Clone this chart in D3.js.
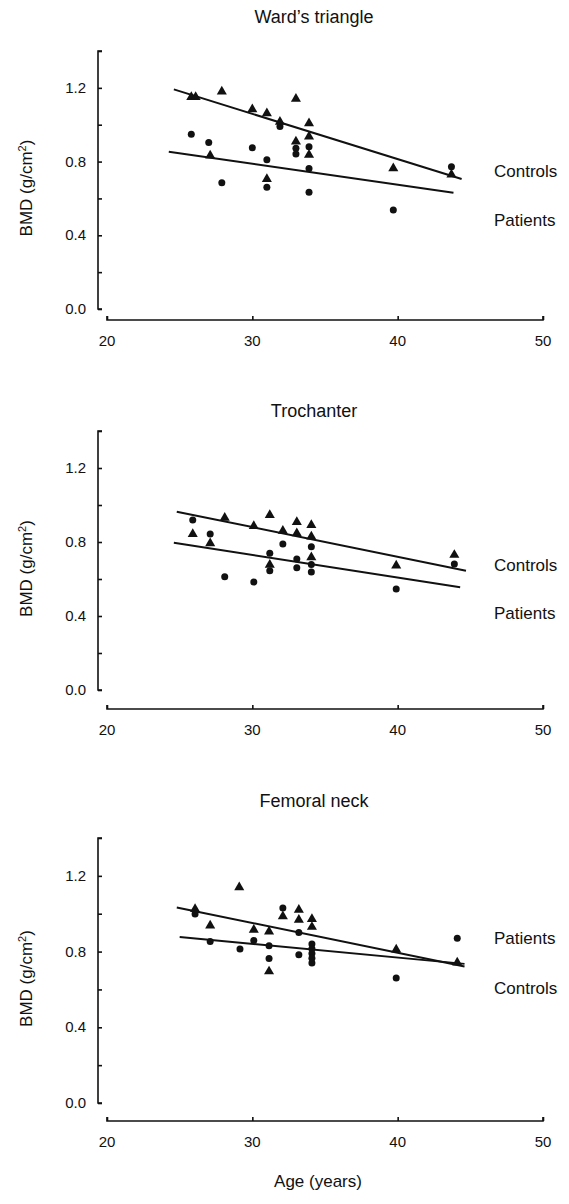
<!DOCTYPE html>
<html>
<head>
<meta charset="utf-8">
<script src="https://cdn.jsdelivr.net/npm/d3@7"></script>
<style>
  body { margin: 0; background: #fff; }
  text { font-family: "Liberation Sans", Arial, sans-serif; fill: #111; }
</style>
</head>
<body>
<svg id="chart"></svg>
<script>
// ---- data ----
const panelTitles = ["Ward\u2019s triangle", "Trochanter", "Femoral neck"];
const xTicks = [20, 30, 40, 50];
const yTicks = [0, 0.2, 0.4, 0.6, 0.8, 1.0, 1.2, 1.4];
const yTickLabels = ["0.0", "", "0.4", "", "0.8", "", "1.2", ""];

// [age, BMD]; triangles = controls, dots = patients
const wardControls = [[25.8,1.15],[26.1,1.15],[27.1,0.832],[27.9,1.18],[30,1.083],[31,1.062],[31,0.705],[31.9,1.016],[33,1.14],[33,0.908],[33.9,1.007],[33.9,0.935],[33.9,0.836],[39.7,0.763],[43.7,0.73]];
const wardPatients = [[25.8,0.948],[27,0.904],[27.9,0.685],[30,0.875],[31,0.81],[31,0.66],[31.9,0.99],[33,0.872],[33,0.841],[33.9,0.88],[33.9,0.763],[33.9,0.633],[39.7,0.537],[43.7,0.772]];
const wardLines = [[[24.6,1.192],[44.4,0.705]], [[24.25,0.853],[43.84,0.631]]];
const wardLabels = ["Controls", "Patients"];

const trochControls = [[25.9,0.843],[27.1,0.793],[28.1,0.931],[30.1,0.886],[31.2,0.946],[31.2,0.676],[32.1,0.861],[33.06,0.908],[33.06,0.847],[34.06,0.892],[34.06,0.829],[34.06,0.717],[39.9,0.672],[43.9,0.73]];
const trochPatients = [[25.9,0.919],[27.1,0.843],[28.1,0.612],[30.1,0.584],[31.2,0.739],[31.2,0.645],[32.1,0.789],[33.06,0.708],[33.06,0.661],[34.06,0.775],[34.06,0.679],[34.06,0.638],[39.9,0.546],[43.9,0.681]];
const trochLines = [[[24.8,0.964],[44.7,0.645]], [[24.6,0.796],[44.3,0.555]]];
const trochLabels = ["Controls", "Patients"];

const neckControls = [[26.06,1.025],[27.1,0.937],[29.1,1.139],[30.1,0.915],[31.15,0.906],[31.15,0.695],[32.1,0.986],[33.2,1.021],[33.2,0.968],[34.1,0.972],[34.1,0.93],[39.9,0.81],[44.1,0.742]];
const neckPatients = [[26.06,0.998],[27.1,0.853],[29.15,0.813],[30.1,0.859],[31.15,0.831],[31.15,0.764],[32.1,1.03],[33.2,0.901],[33.2,0.783],[34.1,0.84],[34.1,0.815],[34.1,0.79],[34.1,0.765],[34.1,0.74],[39.9,0.66],[44.1,0.871]];
const neckLines = [[[24.8,1.033],[44.6,0.721]], [[25,0.877],[44.6,0.735]]];
const neckLabels = ["Patients", "Controls"];

const W = 569, H = 1204;
const svg = d3.select("#chart").attr("width", W).attr("height", H);

const x = d3.scaleLinear().domain([20, 50]).range([107, 543]);

// layout of each panel: pixel of y=0, pixel of y=1.4, x axis line, label rows
const panels = [
  {title: panelTitles[0], ctrl: wardControls, pat: wardPatients, lines: wardLines, labels: wardLabels,
   y0: 309, y1: 51, xAxisY: 320, titleY: 17, labelY: [171, 220]},
  {title: panelTitles[1], ctrl: trochControls, pat: trochPatients, lines: trochLines, labels: trochLabels,
   y0: 690, y1: 431, xAxisY: 709, titleY: 411, labelY: [565, 613]},
  {title: panelTitles[2], ctrl: neckControls, pat: neckPatients, lines: neckLines, labels: neckLabels,
   y0: 1103, y1: 838, xAxisY: 1121, titleY: 801, labelY: [938, 988]}
];

const tri = d3.symbol().type(d3.symbolTriangle).size(44);

panels.forEach(p => {
  const y = d3.scaleLinear().domain([0, 1.4]).range([p.y0, p.y1]);
  const g = svg.append("g");

  // title
  g.append("text").attr("x", 314).attr("y", p.titleY + 6)
    .attr("text-anchor", "middle").attr("font-size", 18).text(p.title);

  // y axis (ticks point inward)
  const yAxis = d3.axisRight(y).tickValues(yTicks).tickSize(4).tickFormat("");
  const ya = g.append("g").attr("transform", "translate(98,0)").call(yAxis);
  ya.select(".domain").attr("stroke", "#111").attr("stroke-width", 1.6).attr("d", `M4,${p.y1}H0V${p.y0}H4`);
  ya.selectAll(".tick line").attr("stroke", "#111").attr("stroke-width", 1.6);
  g.selectAll(".ylab").data(yTicks.filter((d, i) => yTickLabels[i])).join("text")
    .attr("x", 86).attr("y", d => y(d) + 5)
    .attr("text-anchor", "end").attr("font-size", 15)
    .text(d => yTickLabels[yTicks.indexOf(d)]);

  // y axis title
  const cy = (p.y0 + p.y1) / 2 + 8;
  const yt = g.append("text").attr("transform", `translate(32,${cy}) rotate(-90)`)
    .attr("text-anchor", "middle").attr("font-size", 17);
  yt.append("tspan").text("BMD (g/cm");
  yt.append("tspan").attr("baseline-shift", "super").attr("font-size", 11).text("2");
  yt.append("tspan").text(")");

  // x axis (ticks point up)
  const xAxis = d3.axisTop(x).tickValues(xTicks).tickSize(4).tickFormat("");
  const xa = g.append("g").attr("transform", `translate(0,${p.xAxisY})`).call(xAxis);
  xa.select(".domain").attr("stroke", "#111").attr("stroke-width", 1.6).attr("d", `M${x(20)},-4V0H${x(50)}V-4`);
  xa.selectAll(".tick line").attr("stroke", "#111").attr("stroke-width", 1.6);
  g.selectAll(".xlab").data(xTicks).join("text")
    .attr("x", d => x(d)).attr("y", p.xAxisY + 26)
    .attr("text-anchor", "middle").attr("font-size", 15).text(d => d);

  // regression lines
  g.selectAll(".fit").data(p.lines).join("line")
    .attr("x1", d => x(d[0][0])).attr("y1", d => y(d[0][1]))
    .attr("x2", d => x(d[1][0])).attr("y2", d => y(d[1][1]))
    .attr("stroke", "#111").attr("stroke-width", 2);

  // points
  g.selectAll(".pat").data(p.pat).join("circle")
    .attr("cx", d => x(d[0])).attr("cy", d => y(d[1])).attr("r", 3.5).attr("fill", "#111");
  g.selectAll(".ctrl").data(p.ctrl).join("path")
    .attr("d", tri).attr("transform", d => `translate(${x(d[0])},${y(d[1])})`).attr("fill", "#111");

  // line labels
  g.selectAll(".lbl").data(p.labels).join("text")
    .attr("x", 494).attr("y", (d, i) => p.labelY[i] + 6)
    .attr("font-size", 17).text(d => d);
});

svg.append("text").attr("x", 318).attr("y", 1187)
  .attr("text-anchor", "middle").attr("font-size", 17).text("Age (years)");
</script>
</body>
</html>
